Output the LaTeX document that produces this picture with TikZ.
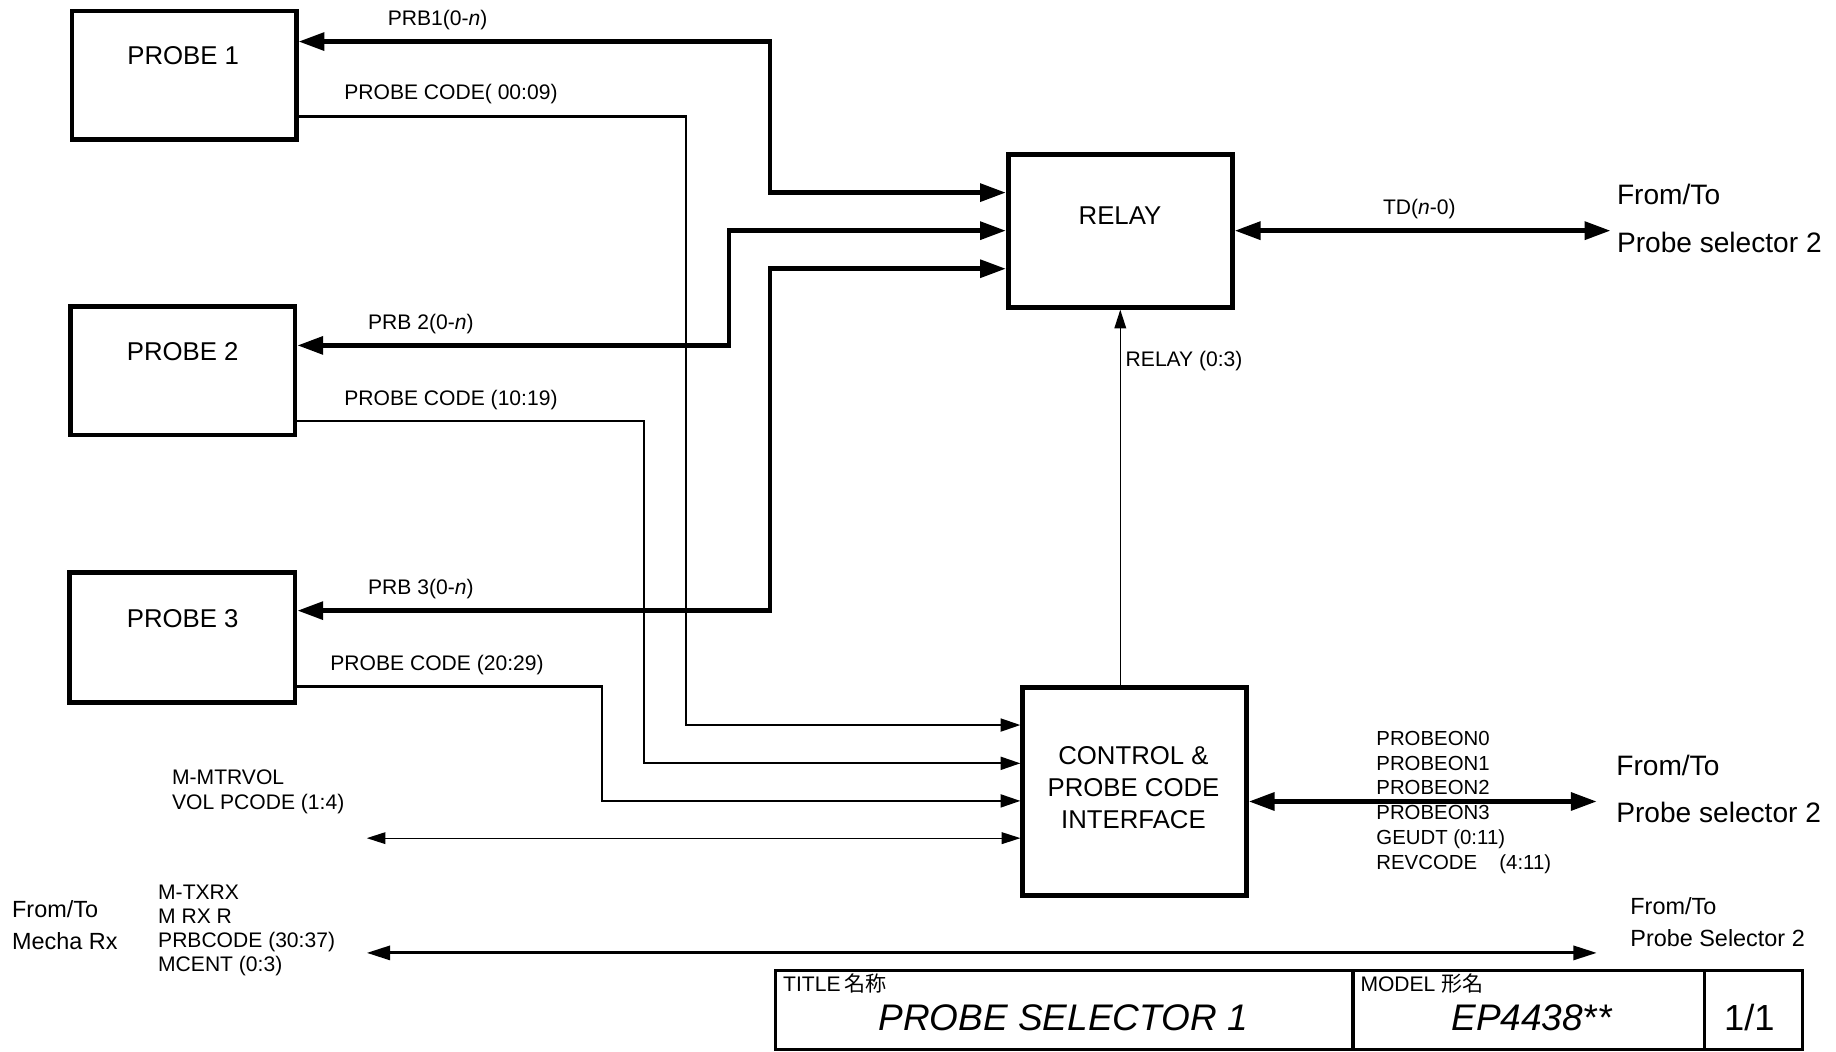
\documentclass[tikz,border=0pt]{standalone}
\usepackage{fontspec}
\setmainfont{Liberation Sans}
\newfontfamily\cjk{Noto Sans CJK JP}
\usetikzlibrary{arrows.meta,fit}
\tikzset{
  box/.style={draw, line width=2pt, inner sep=0pt},
  boxtxt/.style={font=\fontsize{11pt}{13pt}\selectfont, anchor=base, inner sep=0pt},
  lbl/.style={font=\fontsize{9pt}{10.5pt}\selectfont, anchor=base west, inner sep=0pt},
  lblsm/.style={font=\fontsize{8.7pt}{10pt}\selectfont, anchor=base west, inner sep=0pt},
  ftbig/.style={font=\fontsize{12pt}{14pt}\selectfont, anchor=base west, inner sep=0pt},
  ftmid/.style={font=\fontsize{10pt}{12pt}\selectfont, anchor=base west, inner sep=0pt},
  ttl/.style={font=\fontsize{15.8pt}{18pt}\selectfont\itshape, anchor=base, inner sep=0pt},
  tblbl/.style={font=\fontsize{9pt}{10.5pt}\selectfont, anchor=base west, inner sep=0pt},
  bus/.style={line width=1.9pt, {Triangle[length=11pt,width=7.5pt]}-{Triangle[length=11pt,width=7.5pt]}},
  codeline/.style={line width=1pt, -{Triangle[length=8.5pt,width=5.5pt]}},
  thinline/.style={line width=0.55pt},
  thintip/.style={-{Triangle[length=8pt,width=5pt]}},
  thinboth/.style={{Triangle[length=8pt,width=5pt]}-{Triangle[length=8pt,width=5pt]}},
  medboth/.style={line width=1.3pt, {Triangle[length=10pt,width=6pt]}-{Triangle[length=10pt,width=6pt]}},
  tbline/.style={line width=1.3pt}
}
\begin{document}
\begin{tikzpicture}[x=0.5pt,y=-0.5pt]
\useasboundingbox (0,0) rectangle (1568,898);

% boxes
\node[box, fit={(61.5,9.5) (253,119)}] (p1) {};
\node[box, fit={(60,262) (252,371.5)}] (p2) {};
\node[box, fit={(59.5,489) (252,600)}] (p3) {};
\node[box, fit={(861,132) (1052.5,262.5)}] (relay) {};
\node[box, fit={(873.5,587) (1064.5,764.5)}] (ctrl) {};

\node[boxtxt] (p1t) at (156.5,54.7) {PROBE 1};
\node[boxtxt] (p2t) at (156,308) {PROBE 2};
\node[boxtxt] (p3t) at (156,535.8) {PROBE 3};
\node[boxtxt] (relayt) at (956.5,192) {RELAY};
\node[boxtxt] (ct1) at (968,652.5) {CONTROL \&};
\node[boxtxt] (ct2) at (968,680.4) {PROBE CODE};
\node[boxtxt] (ct3) at (968,707.4) {INTERFACE};

% PRB buses
\draw[bus] (p1.east |- 0,35.5) -- (657.6,35.5) -- (657.6,164.5) -- (relay.west |- 0,164.5);
\draw[bus] (p2.east |- 0,295) -- (622.5,295) -- (622.5,197) -- (relay.west |- 0,197);
\draw[bus] (p3.east |- 0,521.5) -- (657.6,521.5) -- (657.6,229.5) -- (relay.west |- 0,229.5);

% probe code lines
\draw[codeline] (p1.east |- 0,99.6) -- (585.6,99.6) -- (585.6,619.2) -- (ctrl.west |- 0,619.2);
\draw[codeline] (p2.east |- 0,359.5) -- (549.8,359.5) -- (549.8,651.9) -- (ctrl.west |- 0,651.9);
\draw[codeline] (p3.east |- 0,586.4) -- (514,586.4) -- (514,684) -- (ctrl.west |- 0,684);

% M-MTRVOL
\coordinate (mv) at (313.2,715.8);
\draw[thinline, thinboth] (mv) -- (ctrl.west |- mv);

% RELAY (0:3)
\draw[thinline, thintip] (ctrl.north -| relay.south) -- (relay.south);

% TD
\coordinate (tdR) at (1375.4,197);
\draw[bus] (relay.east |- tdR) -- (tdR);

% control right
\coordinate (cR) at (1363.6,684.5);
\draw[bus] (ctrl.east |- cR) -- (cR);

% bottom line
\coordinate (bL) at (313.2,813.8);
\coordinate (bR) at (1363.7,813.8);
\draw[medboth] (bL) -- (bR);

% labels
\node[lbl] (l1) at (330.8,21.4) {PRB1(0-\textit{n})};
\node[lbl] (l2) at (293.7,85.4) {PROBE CODE( 00:09)};
\node[lbl] (l3) at (314,281) {PRB 2(0-\textit{n})};
\node[lbl] (l4) at (293.7,345.9) {PROBE CODE (10:19)};
\node[lbl] (l5) at (314,508) {PRB 3(0-\textit{n})};
\node[lbl] (l6) at (281.8,573) {PROBE CODE (20:29)};
\node[lbl] (l7) at (146.6,670.4) {M-MTRVOL};
\node[lbl] (l8) at (146.6,691.2) {VOL PCODE (1:4)};
\node[lbl] (l9) at (961,313) {RELAY (0:3)};
\node[lbl] (l10) at (1180.8,183.6) {TD(\textit{n}-0)};

\node[lbl] (m1) at (134.7,768) {M-TXRX};
\node[lbl] (m2) at (134.7,788.5) {M RX R};
\node[lbl] (m3) at (134.7,809) {PRBCODE (30:37)};
\node[lbl] (m4) at (134.7,829.3) {MCENT (0:3)};

\node[lblsm] (q0) at (1175.1,636.3) {PROBEON0};
\node[lblsm] (q1) at (1175.1,657.6) {PROBEON1};
\node[lblsm] (q2) at (1175.1,678.9) {PROBEON2};
\node[lblsm] (q3) at (1175.1,700.2) {PROBEON3};
\node[lblsm] (q4) at (1175.1,721.5) {GEUDT (0:11)};
\node[lblsm] (q5) at (1175.1,742.8) {REVCODE\hspace{9.5pt}(4:11)};

\node[ftbig] (f1) at (1380.6,175) {From/To};
\node[ftbig] (f2) at (1380.6,215.8) {Probe selector 2};
\node[ftbig] (f3) at (1380,661.9) {From/To};
\node[ftbig] (f4) at (1380,702.6) {Probe selector 2};
\node[ftmid] (f5) at (1392,781.4) {From/To};
\node[ftmid] (f6) at (1392,808) {Probe Selector 2};
\node[ftmid] (f7) at (10,783.4) {From/To};
\node[ftmid] (f8) at (10,810.5) {Mecha Rx};

% title block
\draw[tbline] (662.5,829) rectangle (1539,896.5);
\draw[tbline] (1155.5,829) -- (1155.5,896.5);
\draw[tbline] (1456,829) -- (1456,896.5);
\node[tblbl] (tl) at (668.5,847) {TITLE\,{\cjk 名称}};
\node[tblbl] (ml) at (1161.5,847) {MODEL {\cjk 形名}};
\node[ttl] (tt) at (908,880) {PROBE SELECTOR 1};
\node[ttl] (mt) at (1308,880) {EP4438**};
\node[ttl, font=\fontsize{15.5pt}{18pt}\selectfont] (pg) at (1494,880) {1/1};
\end{tikzpicture}
\end{document}
